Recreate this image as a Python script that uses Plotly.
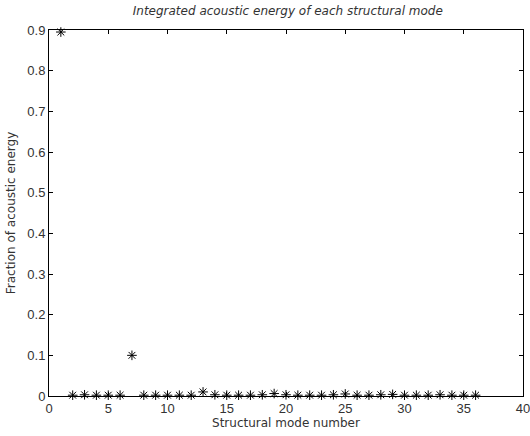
import plotly.graph_objects as go

modes = list(range(1, 37))
energy = [0.895, 0.002, 0.003, 0.002, 0.002, 0.002, 0.100, 0.002, 0.002, 0.002,
          0.002, 0.002, 0.010, 0.003, 0.002, 0.002, 0.002, 0.003, 0.006, 0.003,
          0.002, 0.002, 0.002, 0.003, 0.005, 0.002, 0.002, 0.003, 0.004, 0.002,
          0.002, 0.002, 0.003, 0.002, 0.002, 0.002]

x_ticks = [0, 5, 10, 15, 20, 25, 30, 35, 40]
y_ticks = [0, 0.1, 0.2, 0.3, 0.4, 0.5, 0.6, 0.7, 0.8, 0.9]
y_labels = ["0", "0.1", "0.2", "0.3", "0.4", "0.5", "0.6", "0.7", "0.8", "0.9"]

fig = go.Figure()
fig.add_trace(go.Scatter(
    x=modes, y=energy, mode="markers",
    marker=dict(symbol="asterisk-open", size=8, color="black",
                line=dict(color="black", width=1)),
    cliponaxis=False, showlegend=False))

font_family = "Liberation Sans, Arial"
text_family = "DejaVu Sans"
axis_common = dict(showline=True, linecolor="black", linewidth=1, mirror="ticks",
                   ticks="inside", ticklen=4, tickcolor="black", showgrid=False,
                   zeroline=False, automargin=False, ticklabeloverflow="allow",
                   tickfont=dict(family=font_family, size=13, color="#333"))

fig.update_layout(
    width=530, height=436,
    margin=dict(l=49, r=7, t=30, b=40, autoexpand=False),
    paper_bgcolor="white", plot_bgcolor="white",
    title=dict(text="<i>Integrated acoustic energy of each structural mode</i>",
               x=0.543, xanchor="center", y=0.986, yanchor="top",
               font=dict(family=text_family, size=12, color="#333")),
    xaxis=dict(range=[0, 40], tickvals=x_ticks,
               title=dict(text="Structural mode number", standoff=3,
                          font=dict(family=text_family, size=12, color="#333")),
               **axis_common),
    yaxis=dict(range=[0, 0.9], tickvals=y_ticks, ticktext=y_labels,
               title=dict(text="Fraction of acoustic energy", standoff=9,
                          font=dict(family=text_family, size=12, color="#333")),
               **axis_common),
)

fig.write_html("out.html", config={"displayModeBar": False},
               post_script="document.body.style.margin='0px';")
